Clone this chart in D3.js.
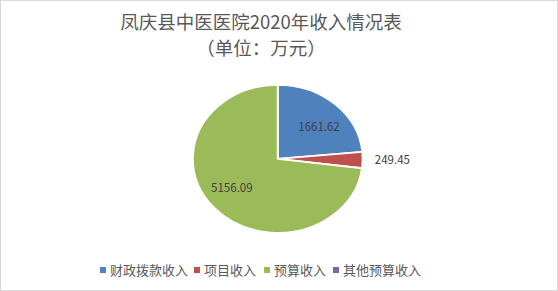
<!DOCTYPE html>
<html>
<head>
<meta charset="utf-8">
<script src="https://cdn.jsdelivr.net/npm/d3@7"></script>
<style>
  body { margin: 0; background: #fff; }
  text { font-family: "Noto Sans CJK SC", "Microsoft YaHei", sans-serif; }
</style>
</head>
<body>
<svg id="chart" width="558" height="291"></svg>
<script>
// chart data
var categories = ["财政拨款收入", "项目收入", "预算收入", "其他预算收入"]
var values = [1661.62, 249.45, 5156.09, 0]
var colors = ["#4F81BD", "#C0504D", "#9BBB59", "#8064A2"]
var titleLines = ["凤庆县中医医院2020年收入情况表", "（单位：万元）"]

var svg = d3.select("#chart")
var width = 558, height = 291

// frame
svg.append("rect")
    .attr("x", 0.5).attr("y", 0.5)
    .attr("width", width - 1).attr("height", height - 1)
    .attr("fill", "#fff").attr("stroke", "#d9d9d9")

// title
svg.selectAll(".title").data(titleLines).join("text")
    .attr("class", "title")
    .attr("x", 261)
    .attr("y", (d, i) => 29 + i * 26)
    .attr("text-anchor", "middle")
    .attr("font-size", 18.5)
    .attr("fill", "#595959")
    .text(d => d)

// pie (drawn as a circle, stretched horizontally like the original)
var cx = 277.8, cy = 158.8, ry = 74, rx = 85
var sx = rx / ry

var pie = d3.pie().sort(null).value(d => d.value)
var arcs = pie(categories.map((c, i) => ({ name: c, value: values[i], color: colors[i] })))
var arc = d3.arc().innerRadius(0).outerRadius(ry)
var labelArc = d3.arc().innerRadius(ry * 0.72).outerRadius(ry * 0.72)

var g = svg.append("g").attr("transform", `translate(${cx},${cy}) scale(${sx},1)`)
g.selectAll("path").data(arcs.filter(d => d.value > 0)).join("path")
    .attr("d", arc)
    .attr("fill", d => d.data.color)
    .attr("stroke", "#fff")
    .attr("stroke-width", 1.8)
    .attr("stroke-linejoin", "round")

// data labels
var labels = svg.append("g").attr("transform", `translate(${cx},${cy})`)
arcs.filter(d => d.value > 0).forEach(function (d, i) {
    var small = (d.endAngle - d.startAngle) < 0.4
    var x, y, anchor
    if (small) {
        var a = (d.startAngle + d.endAngle) / 2
        x = Math.sin(a) * (rx + 12)
        y = -Math.cos(a) * (ry + 12) + 4
        anchor = "start"
    } else {
        var c = labelArc.centroid(d)
        x = c[0] * sx
        y = c[1] + 4 + (c[1] < 0 ? 8 : -6)
        anchor = "middle"
    }
    labels.append("text")
        .attr("x", x).attr("y", y)
        .attr("text-anchor", anchor)
        .attr("font-size", 11.5)
        .attr("fill", "#404040")
        .text(d3.format(".2f")(d.value))
})

// legend
var legendX = [100, 194, 264, 333]
var legend = svg.append("g")
var item = legend.selectAll("g").data(categories).join("g")
    .attr("transform", (d, i) => `translate(${legendX[i]},270)`)
item.append("rect")
    .attr("x", 0).attr("y", -3)
    .attr("width", 6).attr("height", 6)
    .attr("fill", (d, i) => colors[i])
item.append("text")
    .attr("x", 10).attr("y", 5)
    .attr("font-size", 13)
    .attr("fill", "#595959")
    .text(d => d)
</script>
</body>
</html>
